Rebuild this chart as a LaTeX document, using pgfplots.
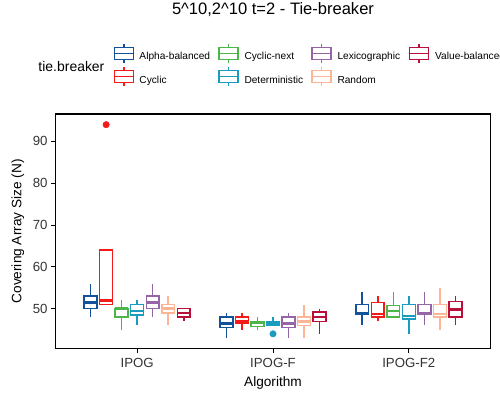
\documentclass[border=0pt]{standalone}
\usepackage{pgfplots}
\pgfplotsset{compat=1.18}
\usepgfplotslibrary{statistics}
\usepackage{fontspec}
\setmainfont{Liberation Sans}
\definecolor{cAB}{HTML}{13529A}
\definecolor{cCY}{HTML}{F41A1A}
\definecolor{cCN}{HTML}{4CB748}
\definecolor{cDE}{HTML}{1A9BC0}
\definecolor{cLE}{HTML}{9565A8}
\definecolor{cRA}{HTML}{FDB595}
\definecolor{cVB}{HTML}{B8103A}
\definecolor{ticktext}{HTML}{333333}
% one box: colour, position, lower whisker, lower quartile, median, upper quartile, upper whisker
\newcommand{\bx}[7]{%
  \addplot[color=#1, fill=white, line width=1.5bp, mark=none,
    boxplot prepared={draw position=#2, lower whisker=#3, lower quartile=#4,
      median=#5, upper quartile=#6, upper whisker=#7, box extend=0.095, whisker extend=0}]
    coordinates {};}
\newcommand{\lkey}[3]{%
  \draw[color=#1, line width=1.5bp, fill=white] (#2-9.5,#3-6) rectangle (#2+9.5,#3+6);
  \draw[color=#1, line width=1.5bp] (#2-9.5,#3) -- (#2+9.5,#3);
  \draw[color=#1, line width=1.5bp] (#2,#3+6) -- (#2,#3+9.3) (#2,#3-6) -- (#2,#3-9.3);}
\begin{document}
\begin{tikzpicture}
\path[use as bounding box] (0bp,0bp) rectangle (500bp,400bp);
\begin{axis}[
  at={(55.7bp,51.3bp)}, anchor=south west,
  scale only axis, width=434.6bp, height=234.7bp,
  xmin=0.4, xmax=3.6, ymin=40.45, ymax=96.55,
  xtick={1,2,3}, xticklabels={IPOG,IPOG-F,IPOG-F2},
  ytick={50,60,70,80,90},
  tick pos=left, tick align=outside, major tick length=4.5bp,
  every tick/.style={black, line width=1bp},
  axis line style={black, line width=1.1bp},
  /pgf/number format/assume math mode=true,
  tick label style={font=\fontsize{13.3}{15}\selectfont, text=ticktext},
  yticklabel style={anchor=east, inner sep=0pt, xshift=-3.5bp},
  xticklabel style={anchor=north, inner sep=0pt, yshift=-5bp},
  xlabel={Algorithm}, ylabel={Covering Array Size (N)},
  label style={font=\fontsize{13.7}{16}\selectfont},
  xlabel style={at={(axis description cs:0.5,-0.1619)}, anchor=base},
  ylabel style={at={(axis description cs:-0.0787,0.5)}, anchor=base},
  title={5\textasciicircum 10,2\textasciicircum 10 t=2 - Tie-breaker},
  title style={at={(axis description cs:0.5,1.3975)}, anchor=base, font=\fontsize{16.6}{19}\selectfont},
  boxplot/draw direction=y,
  boxplot/every median/.style={line width=2.6bp},
  clip=false,
]
% IPOG
\bx{cAB}{0.6571}{48}{50}{51.5}{53}{56}
\addplot[color=cCY, fill=white, line width=1.5bp, mark=*, mark size=3.2bp, mark options={fill=cCY, draw=cCY, line width=0.5bp},
  boxplot prepared={draw position=0.7714, lower whisker=51, lower quartile=51,
    median=52, upper quartile=64, upper whisker=64, box extend=0.095, whisker extend=0}]
  table[row sep=\\, y index=0] {94\\};
\bx{cCN}{0.8857}{45}{48}{50}{50}{52}
\bx{cDE}{1.0000}{46}{48.5}{49.5}{51}{52}
\bx{cLE}{1.1143}{48}{50}{51.5}{53}{56}
\bx{cRA}{1.2286}{46}{49}{50}{51}{53}
\bx{cVB}{1.3429}{47}{48}{49}{50}{50}
% IPOG-F
\bx{cAB}{1.6571}{43}{45.5}{46.5}{48}{49}
\bx{cCY}{1.7714}{45}{46.5}{47}{48}{49}
\bx{cCN}{1.8857}{45}{45.75}{46.75}{47}{48}
\addplot[color=cDE, fill=white, line width=1.5bp, mark=*, mark size=3.2bp, mark options={fill=cDE, draw=cDE, line width=0.5bp},
  boxplot prepared={draw position=2.0000, lower whisker=46, lower quartile=46,
    median=46.5, upper quartile=47, upper whisker=48, box extend=0.095, whisker extend=0}]
  table[row sep=\\, y index=0] {44\\};
\bx{cLE}{2.1143}{43}{45.5}{46.5}{48}{49}
\bx{cRA}{2.2286}{43}{46}{47}{48}{51}
\bx{cVB}{2.3429}{44}{47}{48}{49.25}{50}
% IPOG-F2
\bx{cAB}{2.6571}{46}{48.75}{49}{51}{54}
\bx{cCY}{2.7714}{47}{48}{48.75}{51.5}{53}
\bx{cCN}{2.8857}{48}{48}{49.5}{50.75}{54}
\bx{cDE}{3.0000}{44}{47.5}{48.25}{51}{53}
\bx{cLE}{3.1143}{46}{48.75}{49}{51}{54}
\bx{cRA}{3.2286}{45}{48}{48.75}{51}{55}
\bx{cVB}{3.3429}{46}{48}{49.75}{51.75}{53}
\end{axis}
% legend
\begin{scope}[x=1bp,y=1bp]
\node[anchor=base west, inner sep=0pt, font=\fontsize{14}{16}\selectfont] at (38.3,328.3) {tie.breaker};
\lkey{cAB}{123.8}{346.7}
\lkey{cCY}{123.8}{323.5}
\lkey{cCN}{228.3}{346.7}
\lkey{cDE}{228.3}{323.5}
\lkey{cLE}{321.7}{346.7}
\lkey{cRA}{321.7}{323.5}
\lkey{cVB}{419.2}{346.7}
\begin{scope}[every node/.style={anchor=base west, inner sep=0pt, font=\fontsize{10.2}{12}\selectfont}]
\node at (139.3,341) {Alpha-balanced};
\node at (139.3,316.7) {Cyclic};
\node at (244.3,341) {Cyclic-next};
\node at (244.3,316.7) {Deterministic};
\node at (337.3,341) {Lexicographic};
\node at (337.3,316.7) {Random};
\node at (435,341) {Value-balanced};
\end{scope}
\end{scope}
\end{tikzpicture}
\end{document}
